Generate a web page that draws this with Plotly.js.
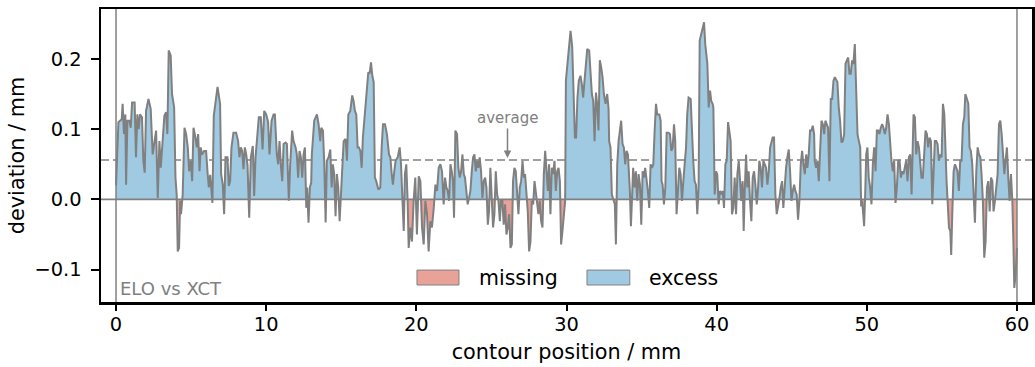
<!DOCTYPE html>
<html>
<head>
<meta charset="utf-8">
<script src="https://cdn.plot.ly/plotly-3.0.1.min.js"></script>
<style>
  html, body { margin: 0; padding: 0; background: #fff; }
  #chart { width: 1035px; height: 367px; }
</style>
</head>
<body>
<div id="chart"></div>
<script>
// ---- data ----
const position = [
  0, 0.16, 0.38, 0.44, 0.53, 0.62, 0.67, 0.76, 0.89, 0.98,
  1.07, 1.24, 1.33, 1.42, 1.51, 1.6, 1.73, 1.82, 1.91, 2.0,
  2.16, 2.31, 2.44, 2.53, 2.67, 2.78, 2.89, 2.98, 3.11, 3.22,
  3.33, 3.42, 3.51, 3.64, 3.73, 3.87, 3.96, 4.04, 4.11, 4.2,
  4.27, 4.33, 4.44, 4.56, 4.67, 4.78, 4.87, 4.98, 5.07, 5.16,
  5.29, 5.38, 5.47, 5.56, 5.64, 5.73, 5.87, 6.0, 6.09, 6.18,
  6.27, 6.42, 6.51, 6.62, 6.76, 6.93, 7.0, 7.11, 7.2, 7.29,
  7.42, 7.51, 7.6, 7.69, 7.82, 8.0, 8.13, 8.22, 8.31, 8.4,
  8.49, 8.58, 8.67, 8.76, 8.87, 8.98, 9.11, 9.2, 9.29, 9.38,
  9.51, 9.64, 9.76, 9.87, 10.0, 10.13, 10.22, 10.36, 10.49, 10.58,
  10.71, 10.8, 10.89, 10.98, 11.07, 11.16, 11.29, 11.38, 11.51, 11.6,
  11.73, 11.82, 11.96, 12.04, 12.13, 12.22, 12.31, 12.4, 12.49, 12.58,
  12.67, 12.73, 12.82, 12.91, 13.0,
  13.04, 13.2, 13.38, 13.49, 13.6, 13.67, 13.78, 13.87, 13.96, 14.04,
  14.16, 14.27, 14.36, 14.44, 14.53, 14.62, 14.71, 14.8, 14.89, 14.98,
  15.07, 15.16, 15.29, 15.38, 15.47, 15.6, 15.73, 15.82, 15.91, 16.0,
  16.09, 16.18, 16.27, 16.36, 16.44, 16.58, 16.67, 16.8, 16.89, 16.98,
  17.07, 17.16, 17.24, 17.33, 17.47, 17.6, 17.69, 17.78, 17.91, 18.04,
  18.18, 18.27, 18.36, 18.44, 18.53, 18.62, 18.76, 18.89, 18.98, 19.07,
  19.16, 19.24, 19.33, 19.42, 19.49,
  19.6, 19.71, 19.82, 19.93, 20.04, 20.16, 20.27, 20.38, 20.49, 20.6,
  20.71, 20.82, 20.93, 21.04, 21.16, 21.27, 21.38, 21.49, 21.6, 21.71,
  21.82, 21.91, 22.0, 22.09, 22.18, 22.27, 22.36, 22.44, 22.51, 22.6,
  22.71, 22.8, 22.89, 22.98, 23.07, 23.16, 23.24, 23.33, 23.42, 23.51,
  23.6, 23.69, 23.78, 23.87, 23.96, 24.04, 24.13, 24.22, 24.31, 24.4,
  24.49, 24.58, 24.67, 24.76, 24.84, 24.93, 25.02, 25.11, 25.2, 25.29,
  25.38, 25.47, 25.56, 25.64, 25.73, 25.82, 25.91, 26.0, 26.09, 26.18,
  26.27, 26.36,
  26.44, 26.53, 26.62, 26.71, 26.8, 26.89, 26.98, 27.07, 27.16, 27.24,
  27.33, 27.42, 27.51, 27.6, 27.69, 27.78, 27.87, 27.96, 28.04, 28.13,
  28.22, 28.31, 28.4, 28.49, 28.58, 28.67, 28.76, 28.84, 28.93, 29.02,
  29.11, 29.2, 29.29, 29.38, 29.47, 29.56, 29.64, 29.73, 29.82, 29.91,
  29.96, 30.04, 30.16, 30.27, 30.38, 30.49, 30.56, 30.64, 30.73, 30.82,
  30.93, 31.02, 31.11, 31.2, 31.29, 31.38, 31.51, 31.6, 31.69, 31.78,
  31.87, 31.96, 32.04, 32.13, 32.22, 32.31, 32.4, 32.49, 32.6, 32.71,
  32.8, 32.84, 32.93, 33.02,
  33.16, 33.22, 33.29, 33.38, 33.47, 33.56, 33.64, 33.73, 33.82, 33.91,
  34.0, 34.09, 34.16, 34.22, 34.29, 34.38, 34.44, 34.53, 34.62, 34.71,
  34.8, 34.89, 34.98, 35.07, 35.16, 35.24, 35.33, 35.42, 35.51, 35.6,
  35.69, 35.78, 35.87, 35.96, 36.04, 36.18, 36.27, 36.33, 36.4, 36.49,
  36.58, 36.67, 36.8, 36.89, 36.98, 37.07, 37.16, 37.24, 37.33, 37.42,
  37.51, 37.6, 37.69, 37.78, 37.87, 37.96, 38.04, 38.13, 38.27, 38.36,
  38.44, 38.53, 38.62, 38.71, 38.8, 38.87, 39.0, 39.16, 39.24, 39.38,
  39.47, 39.56, 39.64, 39.73, 39.78, 39.87,
  39.96, 40.04, 40.13, 40.22, 40.31, 40.4, 40.49, 40.58, 40.67, 40.76,
  40.84, 40.93, 41.02, 41.11, 41.2, 41.29, 41.38, 41.47, 41.56, 41.64,
  41.73, 41.8, 41.87, 41.96, 42.04, 42.13, 42.22, 42.31, 42.4, 42.49,
  42.58, 42.67, 42.76, 42.84, 42.93, 43.02, 43.11, 43.2, 43.29, 43.38,
  43.47, 43.56, 43.64, 43.73, 43.82, 43.91, 44.0, 44.09, 44.18, 44.27,
  44.36, 44.44, 44.53, 44.62, 44.71, 44.8, 44.89, 44.98, 45.07, 45.16,
  45.24, 45.33, 45.42, 45.51, 45.6, 45.69, 45.78, 45.87, 45.96, 46.04,
  46.13, 46.22, 46.31, 46.4, 46.49,
  46.53, 46.62, 46.71, 46.8, 46.89, 46.98, 47.07, 47.16, 47.24, 47.33,
  47.42, 47.51, 47.6, 47.69, 47.78, 47.87, 47.96, 48.04, 48.13, 48.22,
  48.31, 48.4, 48.49, 48.58, 48.67, 48.76, 48.84, 48.93, 49.02, 49.11,
  49.2, 49.29, 49.38, 49.47, 49.56, 49.62, 49.69, 49.76, 49.82, 49.89,
  49.96, 50.04, 50.13, 50.22, 50.31, 50.4, 50.49, 50.58, 50.67, 50.76,
  50.84, 50.93, 51.02, 51.11, 51.2, 51.29, 51.38, 51.47, 51.56, 51.64,
  51.73, 51.82, 51.91, 52.0, 52.09, 52.18, 52.27, 52.36, 52.44, 52.53,
  52.62, 52.71, 52.8, 52.89, 52.98,
  53.11, 53.2, 53.29, 53.38, 53.47, 53.56, 53.64, 53.73, 53.82, 53.91,
  54.0, 54.09, 54.18, 54.27, 54.36, 54.44, 54.53, 54.62, 54.71, 54.8,
  54.89, 54.98, 55.07, 55.16, 55.24, 55.31, 55.38, 55.47, 55.56, 55.62,
  55.69, 55.78, 55.87, 55.96, 56.04, 56.13, 56.22, 56.31, 56.4, 56.49,
  56.56, 56.67, 56.76, 56.84, 56.93, 57.02, 57.11, 57.2, 57.29, 57.38,
  57.47, 57.56, 57.64, 57.73, 57.82, 57.91, 58.0, 58.09, 58.18, 58.27,
  58.36, 58.44, 58.53, 58.62, 58.71, 58.8, 58.89, 58.98, 59.07, 59.16,
  59.24, 59.33, 59.42, 59.51, 59.6, 59.69, 59.76, 59.82, 59.91, 60.0
];

const deviation = [
  0.020, 0.110, 0.114, 0.136, 0.093, 0.121, 0.021, 0.112, 0.112, 0.102,
  0.138, 0.138, 0.060, 0.121, 0.100, 0.121, 0.117, 0.055, 0.038, 0.126,
  0.143, 0.129, 0.064, 0.079, 0.098, 0.002, 0.083, 0.045, 0.083, 0.119,
  0.124, 0.093, 0.212, 0.205, 0.150, 0.131, 0.031, 0.007, -0.074, -0.069,
  -0.002, -0.021, 0.007, 0.102, 0.093, 0.074, 0.040, 0.055, 0.026, 0.102,
  0.088, 0.074, 0.093, 0.040, 0.074, 0.064, 0.069, 0.069, 0.040, 0.017,
  0.035, -0.005, 0.119, 0.140, 0.160, 0.136, 0.036, 0.021, -0.021, 0.060,
  0.060, 0.019, 0.026, 0.074, 0.095, 0.095, 0.083, 0.060, 0.074, 0.069,
  0.043, 0.074, 0.064, 0.048, -0.026, 0.060, 0.076, 0.005, 0.060, 0.083,
  0.117, 0.117, 0.071, 0.126, 0.121, 0.110, 0.064, 0.112, 0.121, 0.121,
  0.064, 0.050, 0.083, 0.048, 0.026, 0.079, 0.081, 0.079, -0.002, 0.050,
  0.098, 0.083, 0.074, 0.064, 0.031, 0.069, 0.060, 0.031, 0.064, 0.074,
  -0.012, 0.017, -0.033, 0.017, 0.024,
  0.064, 0.112, 0.121, 0.107, 0.083, 0.102, 0.098, 0.050, -0.033, 0.055,
  0.060, 0.071, 0.017, 0.050, 0.036, -0.024, 0.036, 0.017, -0.031, 0.007,
  0.050, 0.083, 0.086, 0.055, 0.121, 0.126, 0.148, 0.140, 0.126, 0.121,
  0.074, 0.074, 0.069, 0.045, 0.088, 0.126, 0.155, 0.181, 0.179, 0.195,
  0.176, 0.167, 0.031, 0.026, 0.014, 0.017, 0.074, 0.107, 0.107, 0.093,
  0.064, 0.060, 0.036, 0.021, 0.040, 0.055, 0.060, 0.074, 0.050, 0.012,
  -0.045, 0.036, 0.050, -0.002, -0.069,
  -0.040, -0.060, -0.002, 0.031, -0.050, 0.033, 0.026, -0.040, -0.064, -0.002,
  -0.021, -0.074, -0.031, -0.040, -0.012, 0.021, 0.012, 0.045, 0.050, 0.040,
  -0.007, 0.031, 0.017, 0.012, -0.002, 0.050, 0.040, 0.026, -0.026, 0.098,
  0.093, 0.045, 0.031, 0.040, 0.064, 0.036, 0.031, 0.012, -0.007, 0.002,
  0.012, 0.040, 0.060, 0.064, 0.040, 0.055, 0.045, 0.060, 0.040, 0.002,
  0.026, 0.031, 0.017, -0.036, -0.017, 0.045, -0.012, -0.040, -0.021, 0.040,
  0.007, -0.002, -0.031, -0.002, -0.002, -0.036, -0.007, -0.050, -0.040, -0.021,
  -0.069, -0.064,
  0.026, 0.045, 0.040, -0.002, -0.021, 0.017, 0.026, 0.055, 0.031, 0.036,
  0.002, -0.017, -0.074, -0.060, -0.002, -0.007, 0.026, 0.012, -0.007, -0.021,
  -0.002, -0.031, -0.040, 0.036, 0.069, 0.040, 0.012, 0.050, -0.021, 0.045,
  0.036, 0.055, 0.012, 0.040, 0.045, 0.026, -0.064, -0.045, -0.021, -0.002,
  0.169, 0.188, 0.217, 0.240, 0.217, 0.145, 0.088, 0.088, 0.145, 0.169,
  0.176, 0.164, 0.145, 0.169, 0.198, 0.214, 0.212, 0.169, 0.150, 0.140,
  0.083, 0.152, 0.136, 0.098, 0.198, 0.188, 0.174, 0.150, 0.136, 0.150,
  0.129, 0.083, 0.074, 0.007,
  -0.002, -0.007, -0.064, 0.050, 0.083, 0.098, 0.112, 0.079, 0.074, 0.050,
  0.069, 0.064, 0.036, 0.012, -0.038, 0.026, 0.045, 0.017, 0.040, -0.002,
  0.036, 0.021, -0.036, 0.040, 0.031, 0.045, 0.031, 0.012, -0.012, 0.050,
  0.045, 0.050, 0.098, 0.136, 0.121, 0.121, 0.112, 0.026, 0.021, -0.007,
  0.017, 0.095, 0.095, 0.093, 0.069, 0.074, 0.107, 0.083, -0.021, 0.017,
  0.045, 0.036, -0.002, 0.026, 0.050, 0.074, 0.121, 0.145, 0.143, 0.083,
  0.055, 0.026, 0.021, -0.021, 0.021, 0.226, 0.238, 0.252, 0.221, 0.193,
  0.131, 0.155, 0.140, 0.136, 0.131, 0.007,
  0.040, 0.036, -0.007, 0.012, 0.007, 0.012, -0.012, 0.050, 0.055, 0.110,
  0.098, 0.083, -0.021, -0.012, 0.031, -0.021, 0.036, 0.055, 0.026, -0.002,
  0.026, -0.045, 0.012, 0.064, 0.017, 0.040, -0.002, -0.031, 0.031, 0.040,
  0.021, -0.007, 0.017, 0.055, 0.045, 0.017, 0.055, 0.050, 0.045, 0.021,
  0.040, 0.074, 0.083, 0.088, 0.088, 0.007, -0.021, -0.012, 0.002, 0.017,
  0.026, -0.012, 0.026, 0.045, 0.060, 0.071, 0.040, -0.002, 0.012, 0.021,
  0.012, 0.007, -0.029, -0.002, 0.050, 0.069, 0.050, 0.036, 0.064, 0.045,
  0.064, 0.098, 0.098, 0.105, 0.093,
  0.055, 0.045, 0.055, 0.026, 0.083, 0.112, 0.107, 0.093, 0.112, 0.107,
  0.102, 0.026, 0.143, 0.143, 0.169, 0.174, 0.169, 0.167, 0.131, 0.112,
  0.081, 0.083, 0.093, 0.193, 0.198, 0.202, 0.179, 0.179, 0.198, 0.193,
  0.221, 0.150, 0.093, 0.083, 0.074, -0.010, -0.002, -0.021, -0.038, 0.007,
  0.064, 0.074, 0.031, 0.017, -0.007, 0.050, 0.074, 0.040, 0.098, 0.098,
  0.093, 0.102, 0.107, 0.102, 0.093, 0.102, 0.121, 0.107, 0.069, 0.055,
  0.040, 0.055, -0.005, 0.017, 0.055, 0.055, 0.031, 0.040, 0.036, 0.045,
  0.055, 0.026, 0.060, 0.064, 0.007,
  0.121, 0.117, 0.064, 0.083, 0.074, 0.045, 0.031, 0.031, 0.064, 0.098,
  0.093, 0.074, 0.088, 0.083, -0.007, 0.040, 0.083, 0.083, 0.079, 0.055,
  0.064, 0.060, 0.136, 0.121, 0.060, 0.026, -0.002, -0.040, -0.045, -0.079,
  -0.021, 0.040, 0.050, 0.045, 0.040, 0.012, 0.055, 0.055, 0.107, 0.117,
  0.150, 0.143, 0.136, 0.074, 0.069, 0.050, 0.007, -0.033, 0.040, 0.074,
  0.064, 0.060, 0.036, -0.002, -0.083, -0.060, 0.017, 0.026, -0.017, 0.031,
  0.026, -0.017, -0.002, 0.021, 0.036, 0.107, 0.112, 0.093, 0.064, 0.036,
  0.055, 0.074, 0.031, -0.002, 0.036, -0.002, -0.060, -0.126, -0.107, -0.069
];

const averageDeviation = 0.056;
const contourStart = 0;
const contourEnd = 60;
const xTickValues = [0, 10, 20, 30, 40, 50, 60];
const yTickValues = [-0.1, 0.0, 0.1, 0.2];
const yTickLabels = ['\u22120.1', '0.0', '0.1', '0.2'];
const legendLabels = ['missing', 'excess'];
const comparisonLabel = 'ELO vs XCT';
const averageLabel = 'average';

// ---- styling ----
const GRAY = '#808080';
const BLUE = '#9fcae2';
const SALMON = '#e8a298';
const FONT = 'DejaVu Sans, Verdana, sans-serif';
const TICK_SIZE = 19.4;
const TITLE_SIZE = 20.8;

// split curve into positive/negative parts, inserting zero crossings
const fx = [], fy = [];
for (let i = 0; i < position.length; i++) {
  fx.push(position[i]); fy.push(deviation[i]);
  if (i + 1 < position.length) {
    const a = deviation[i], b = deviation[i + 1];
    if ((a > 0 && b < 0) || (a < 0 && b > 0)) {
      const t = a / (a - b);
      fx.push(position[i] + t * (position[i + 1] - position[i]));
      fy.push(0);
    }
  }
}
const posPart = fy.map(v => Math.max(v, 0));
const negPart = fy.map(v => Math.min(v, 0));

const traces = [
  { x: fx, y: posPart, type: 'scatter', mode: 'lines', fill: 'tozeroy',
    fillcolor: BLUE, line: { width: 0, color: BLUE }, hoverinfo: 'skip', name: legendLabels[1] },
  { x: fx, y: negPart, type: 'scatter', mode: 'lines', fill: 'tozeroy',
    fillcolor: SALMON, line: { width: 0, color: SALMON }, hoverinfo: 'skip', name: legendLabels[0] },
  { x: position, y: deviation, type: 'scatter', mode: 'lines',
    line: { color: GRAY, width: 2 }, name: 'deviation' }
];

// paper coordinates for the legend
const L = { y0: 0.058, y1: 0.109, yc: 0.0835 };

const layout = {
  width: 1035, height: 367,
  margin: { l: 101, r: 3, t: 9, b: 65 },
  paper_bgcolor: '#ffffff', plot_bgcolor: '#ffffff',
  font: { family: FONT, size: TICK_SIZE, color: '#000000' },
  showlegend: false,
  xaxis: {
    range: [-1, 61], tickvals: xTickValues, ticks: 'outside', ticklen: 6, tickwidth: 2,
    tickcolor: '#000', showline: true, linewidth: 2.5, linecolor: '#000', mirror: true,
    showgrid: false, zeroline: false, ticklabelstandoff: -3,
    tickfont: { family: FONT, size: TICK_SIZE, color: '#000' },
    title: { text: 'contour position / mm', font: { family: FONT, size: TITLE_SIZE, color: '#000' }, standoff: 10 }
  },
  yaxis: {
    range: [-0.146, 0.271], tickvals: yTickValues, ticktext: yTickLabels, ticks: 'outside',
    ticklen: 8, tickwidth: 2, tickcolor: '#000', showline: true, linewidth: 2.5,
    linecolor: '#000', mirror: true, showgrid: false, zeroline: false, ticklabelstandoff: 5,
    tickfont: { family: FONT, size: TICK_SIZE, color: '#000' },
    title: { text: 'deviation / mm', font: { family: FONT, size: TITLE_SIZE, color: '#000' }, standoff: 4 }
  },
  shapes: [
    { type: 'line', xref: 'paper', yref: 'y', x0: 0, x1: 1, y0: averageDeviation, y1: averageDeviation,
      line: { color: GRAY, width: 1.5, dash: '8px,4px' }, layer: 'below' },
    { type: 'line', xref: 'paper', yref: 'y', x0: 0, x1: 1, y0: 0, y1: 0,
      line: { color: GRAY, width: 1.8 }, layer: 'above' },
    { type: 'line', xref: 'x', yref: 'paper', x0: contourStart, x1: contourStart, y0: 0, y1: 1,
      line: { color: GRAY, width: 1.5 }, layer: 'above' },
    { type: 'line', xref: 'x', yref: 'paper', x0: contourEnd, x1: contourEnd, y0: 0, y1: 1,
      line: { color: GRAY, width: 1.5 }, layer: 'above' },
    { type: 'rect', xref: 'paper', yref: 'paper', x0: 0.3394, x1: 0.3845, y0: L.y0, y1: L.y1,
      fillcolor: SALMON, line: { color: GRAY, width: 1 }, layer: 'above' },
    { type: 'rect', xref: 'paper', yref: 'paper', x0: 0.522, x1: 0.568, y0: L.y0, y1: L.y1,
      fillcolor: BLUE, line: { color: GRAY, width: 1 }, layer: 'above' }
  ],
  annotations: [
    { x: 26.07, y: averageDeviation, xref: 'x', yref: 'y', text: averageLabel,
      showarrow: true, ax: 0, ay: -42, arrowhead: 2, arrowsize: 1, arrowwidth: 1.5,
      arrowcolor: GRAY, standoff: 2, font: { family: FONT, size: 15, color: GRAY } },
    { x: 0.12, y: 0.005, xref: 'x', yref: 'paper', xanchor: 'left', yanchor: 'bottom',
      text: comparisonLabel, showarrow: false, font: { family: FONT, size: 18, color: GRAY } },
    { x: 0.4039, y: L.yc, xref: 'paper', yref: 'paper', xanchor: 'left', yanchor: 'middle',
      text: legendLabels[0], showarrow: false, font: { family: FONT, size: 20.5, color: '#000' } },
    { x: 0.5865, y: L.yc, xref: 'paper', yref: 'paper', xanchor: 'left', yanchor: 'middle',
      text: legendLabels[1], showarrow: false, font: { family: FONT, size: 20.5, color: '#000' } }
  ]
};

Plotly.newPlot('chart', traces, layout, { staticPlot: true, displayModeBar: false });
</script>
</body>
</html>
